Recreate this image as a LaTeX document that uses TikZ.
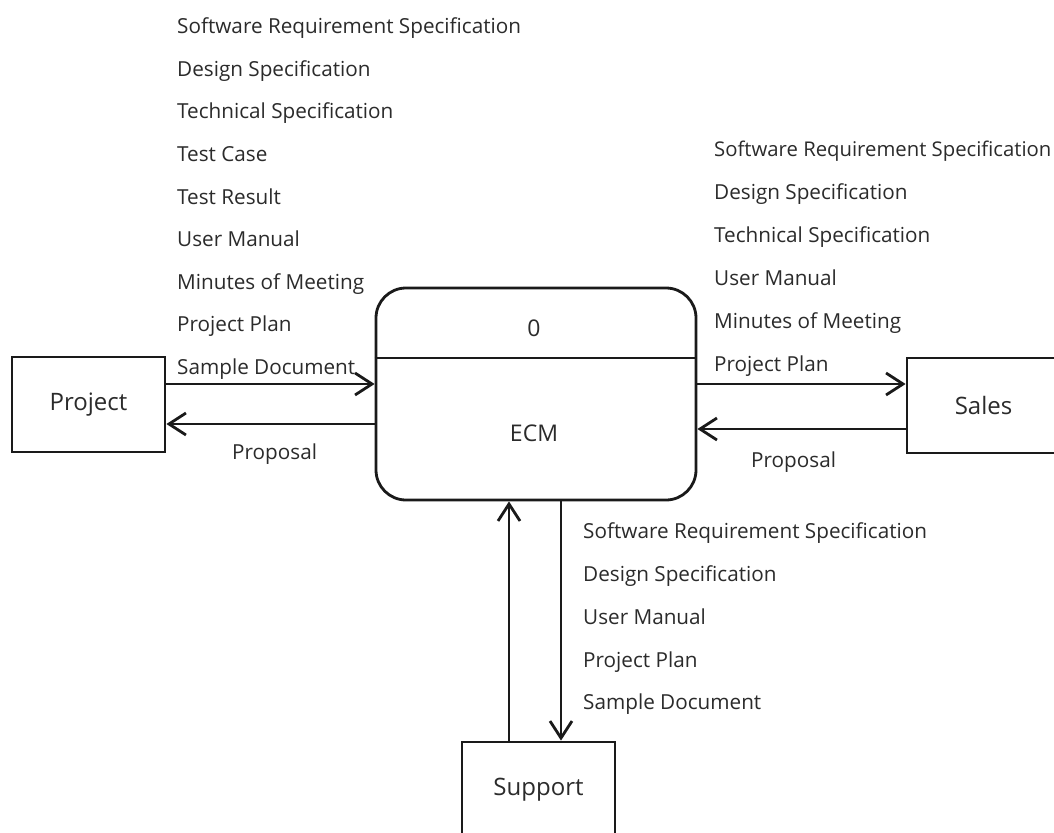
\documentclass[tikz,border=0pt]{standalone}
\usepackage{fontspec}
\setmainfont{Open Sans}
\usetikzlibrary{arrows.meta}
\definecolor{ink}{HTML}{1A1A1A}
\definecolor{txt}{HTML}{2B2B2B}
\tikzset{
  entity/.style={draw=ink, line width=2.8pt, minimum width=153pt, minimum height=95pt, inner sep=0pt, font=\fontsize{24}{28}\selectfont, text=txt},
  proc/.style={draw=ink, line width=2.8pt, rounded corners=30pt, minimum width=320pt, minimum height=212pt, inner sep=0pt},
  flow/.style={draw=ink, line width=2.8pt, -{Straight Barb[length=17pt,width=22pt,line width=2.8pt]}},
  lbl/.style={anchor=base west, inner sep=0pt, text=txt, font=\fontsize{20.7}{24}\selectfont},
  ptext/.style={inner sep=0pt, text=txt, font=\fontsize{23}{27}\selectfont}
}
\begin{document}
\begin{tikzpicture}[x=1pt, y=-1pt]
\useasboundingbox (0,0) rectangle (1054,832);
\clip (0,0) rectangle (1054,832);
\fill[white] (0,0) rectangle (1054,832);

% external entities
\node[entity] (proj) at (88.5,404.5) {Project};
\node[entity] (sales) at (983.5,405.5) {Sales};
\node[entity] (supp) at (538.5,789.5) {Support};

% the process
\node[proc] (ecm) at (536,394) {};
\draw[ink, line width=1.4pt] (ecm.west |- 0,358) -- (ecm.east |- 0,358);
\node[ptext] (pid) at (534,328) {0};
\node[ptext] (pname) at (534,433) {ECM};

% data flows
\draw[flow] (proj.east |- 0,384) -- (ecm.west |- 0,384);
\draw[flow] (ecm.west |- 0,424) -- (proj.east |- 0,424);
\draw[flow] (ecm.east |- 0,384) -- (sales.west |- 0,384);
\draw[flow] (sales.west |- 0,429) -- (ecm.east |- 0,429);
\draw[flow] (supp.north -| 509,0) -- (ecm.south -| 509,0);
\draw[flow] (ecm.south -| 561,0) -- (supp.north -| 561,0);

% Project -> ECM
\node[lbl] (l1) at (177,34) {Software Requirement Specification};
\node[lbl] (l2) at (177,76.5) {Design Specification};
\node[lbl] (l3) at (177,119) {Technical Specification};
\node[lbl] (l4) at (177,161.5) {Test Case};
\node[lbl] (l5) at (177,204) {Test Result};
\node[lbl] (l6) at (177,246.5) {User Manual};
\node[lbl] (l7) at (177,289) {Minutes of Meeting};
\node[lbl] (l8) at (177,331.5) {Project Plan};
\node[lbl] (l9) at (177,374) {Sample Document};
\node[lbl] (lp) at (232,459) {Proposal};

% ECM -> Sales
\node[lbl, font=\fontsize{20.3}{24}\selectfont] (r1) at (714,156) {Software Requirement Specification};
\node[lbl] (r2) at (714,199) {Design Specification};
\node[lbl] (r3) at (714,242) {Technical Specification};
\node[lbl] (r4) at (714,285) {User Manual};
\node[lbl] (r5) at (714,328) {Minutes of Meeting};
\node[lbl] (r6) at (714,371) {Project Plan};
\node[lbl] (rp) at (751,467) {Proposal};

% ECM -> Support
\node[lbl] (b1) at (583,538) {Software Requirement Specification};
\node[lbl] (b2) at (583,581) {Design Specification};
\node[lbl] (b3) at (583,624) {User Manual};
\node[lbl] (b4) at (583,667) {Project Plan};
\node[lbl] (b5) at (583,709) {Sample Document};
\end{tikzpicture}
\end{document}
